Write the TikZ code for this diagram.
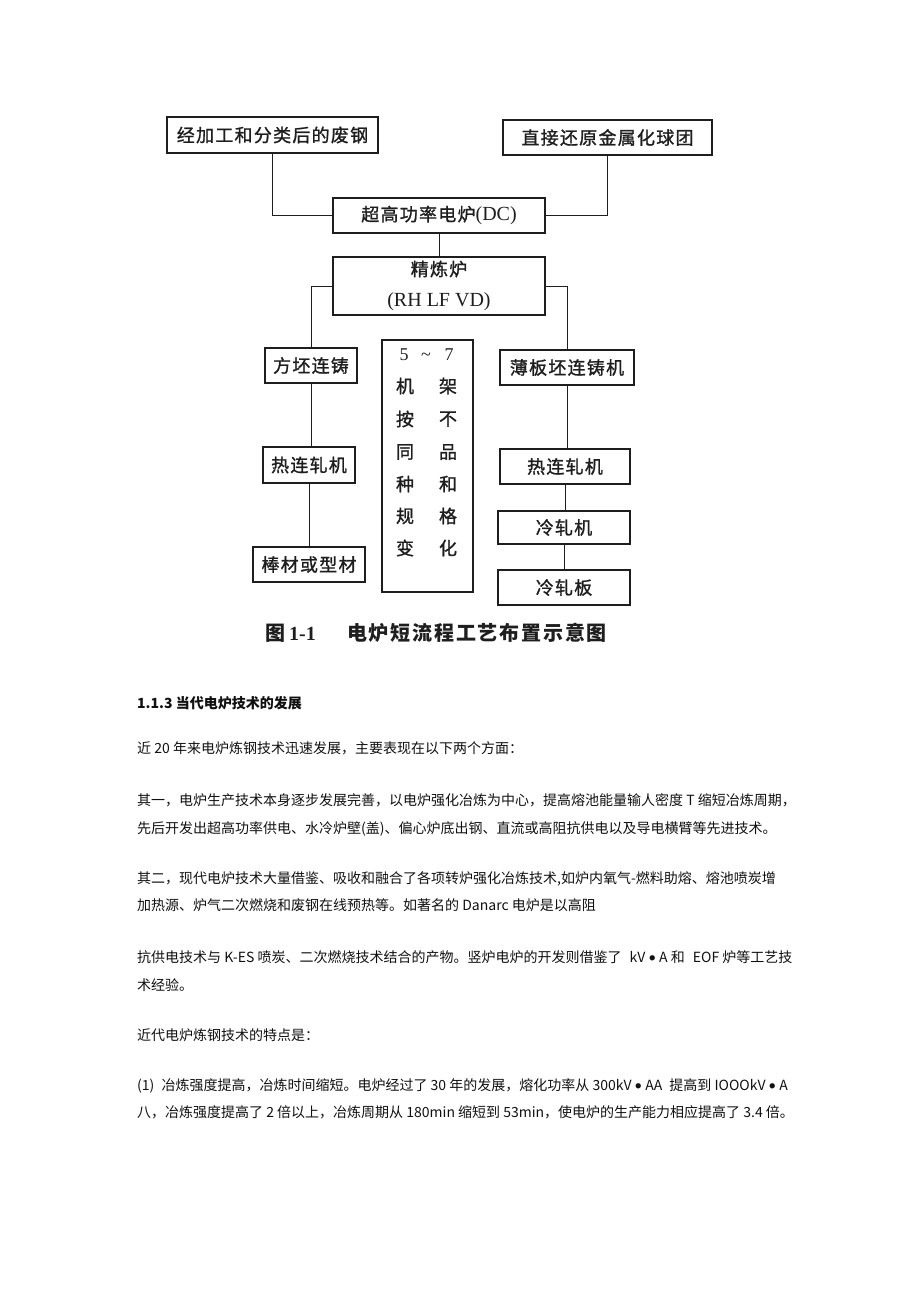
\documentclass[tikz,border=0pt]{standalone}
\usepackage{fontspec}
\setmainfont{Liberation Serif}
\newfontfamily\dcjk{Noto Sans CJK SC}[LetterSpace=7, FakeBold=1.2]
\newfontfamily\bcjk{Noto Sans CJK SC}
\newfontfamily\capcjk{Noto Sans CJK SC}[LetterSpace=9]
\newfontfamily\latb{Carlito}
\newcommand\bul{{\latb\fontsize{15}{16}\selectfont •}}
\definecolor{ink}{HTML}{1E1E1E}
\definecolor{bodyink}{HTML}{111111}
\begin{document}
\begin{tikzpicture}[x=1pt,y=-1pt,
  box/.style={draw=ink, line width=1.4pt, rectangle, inner sep=0pt, text=ink,
    font=\dcjk\fontsize{18}{20}\selectfont},
  conn/.style={draw=ink, line width=1pt},
  dtxt/.style={inner sep=0pt, text=ink, font=\dcjk\fontsize{18}{20}\selectfont},
  body/.style={anchor=base west, inner sep=0pt, text=bodyink,
    font=\bcjk\fontsize{14}{16}\selectfont}]
\useasboundingbox[fill=white] (0,0) rectangle (920,1302);

% ---- boxes ----
\node[box, minimum width=211pt, minimum height=36pt] (b1) at (272.5,135) {经加工和分类后的废钢};
\node[box, minimum width=209pt, minimum height=35pt] (b2) at (607.5,137.5) {直接还原金属化球团};
\node[box, minimum width=212pt, minimum height=35pt] (dc) at (439,215.5) {超高功率电炉{\rmfamily\fontsize{20}{22}\selectfont(DC)}};
\node[box, minimum width=212pt, minimum height=58pt] (ref) at (439,286) {};
\node[dtxt] (ref1) at (439,269) {精炼炉};
\node[dtxt, font=\rmfamily\fontsize{20}{22}\selectfont] (ref2) at (439,302) {(RH LF VD)};

\node[box, minimum width=92pt, minimum height=35pt] (fp) at (311,365.5) {方坯连铸};
\node[box, minimum width=92pt, minimum height=36pt] (hl) at (309,465) {热连轧机};
\node[box, minimum width=112pt, minimum height=35pt] (bc) at (309,564.5) {棒材或型材};

\node[box, minimum width=91pt, minimum height=252pt] (ctr) at (427.5,466) {};
\node[dtxt, font=\rmfamily\fontsize{18}{20}\selectfont] (c5) at (404,355) {5};
\node[dtxt, font=\rmfamily\fontsize{18}{20}\selectfont] (ct) at (426,357) {\textasciitilde};
\node[dtxt, font=\rmfamily\fontsize{18}{20}\selectfont] (c7) at (449,355) {7};
\foreach \a/\b/\yy [count=\i] in {机/架/386, 按/不/419, 同/品/452, 种/和/484, 规/格/516, 变/化/548}{
  \node[dtxt] (cl\i) at (405,\yy) {\a};
  \node[dtxt] (cr\i) at (448,\yy) {\b};
}

\node[box, minimum width=134pt, minimum height=35pt] (bb) at (567,367.5) {薄板坯连铸机};
\node[box, minimum width=130pt, minimum height=35pt] (hr) at (565,466.5) {热连轧机};
\node[box, minimum width=132pt, minimum height=33pt] (lj) at (564,527.5) {冷轧机};
\node[box, minimum width=132pt, minimum height=35pt] (lb) at (564,587.5) {冷轧板};

% ---- connectors ----
\draw[conn] (b1.south) |- (dc.west);
\draw[conn] (b2.south) |- (dc.east);
\draw[conn] (dc.south) -- (ref.north);
\draw[conn] (ref.west) -| (fp.north);
\draw[conn] (ref.east) -| (bb.north);
\draw[conn] (fp.south) -- (fp.south |- hl.north);
\draw[conn] (hl.south) -- (bc.north);
\draw[conn] (bb.south) -- (bb.south |- hr.north);
\draw[conn] (hr.south) -- (hr.south |- lj.north);
\draw[conn] (lj.south) -- (lj.south |- lb.north);

% ---- caption ----
\node[anchor=west, inner sep=0pt, text=ink] (cap1) at (265,633)
  {{\bcjk\bfseries\fontsize{20}{22}\selectfont 图}\hspace{4pt}{\rmfamily\bfseries\fontsize{20}{22}\selectfont 1-1}};
\node[anchor=west, inner sep=0pt, text=ink, font=\capcjk\bfseries\fontsize{20}{22}\selectfont] (cap2) at (347,633) {电炉短流程工艺布置示意图};

% ---- body text ----
\node[body, font=\bcjk\bfseries\fontsize{14}{16}\selectfont] (t1) at (137,708) {1.1.3 当代电炉技术的发展};
\node[body] (t2) at (137,753) {近 20 年来电炉炼钢技术迅速发展，主要表现在以下两个方面：};
\node[body] (t3) at (137,805) {其一，电炉生产技术本身逐步发展完善，以电炉强化冶炼为中心，提高熔池能量输人密度 T 缩短冶炼周期，};
\node[body] (t4) at (137,833) {先后开发出超高功率供电、水冷炉壁(盖)、偏心炉底出钢、直流或高阻抗供电以及导电横臂等先进技术。};
\node[body] (t5) at (137,883) {其二，现代电炉技术大量借鉴、吸收和融合了各项转炉强化冶炼技术,如炉内氧气-燃料助熔、熔池喷炭增};
\node[body] (t6) at (137,910) {加热源、炉气二次燃烧和废钢在线预热等。如著名的 Danarc 电炉是以高阻};
\node[body] (t7) at (137,962) {抗供电技术与 K-ES 喷炭、二次燃烧技术结合的产物。竖炉电炉的开发则借鉴了\hspace{5pt} kV \bul{} A 和\hspace{5pt} EOF 炉等工艺技};
\node[body] (t8) at (137,990) {术经验。};
\node[body] (t9) at (137,1040) {近代电炉炼钢技术的特点是：};
\node[body] (t10) at (137,1090) {(1)\hspace{4pt} 冶炼强度提高，冶炼时间缩短。电炉经过了 30 年的发展，熔化功率从 300kV \bul{} AA\hspace{4pt} 提高到 IOOOkV \bul{} A};
\node[body] (t11) at (137,1117) {八，冶炼强度提高了 2 倍以上，冶炼周期从 180min 缩短到 53min，使电炉的生产能力相应提高了 3.4 倍。};
\end{tikzpicture}
\end{document}
